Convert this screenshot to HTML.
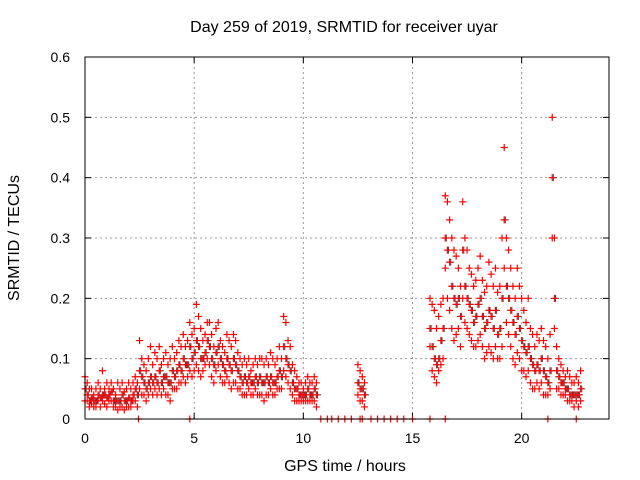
<!DOCTYPE html>
<html><head><meta charset="utf-8">
<style>
body{margin:0;background:#fff;}
svg{display:block;font-family:"Liberation Sans",sans-serif;}
</style></head>
<body>
<svg id="chart" width="640" height="480" viewBox="0 0 640 480">
<rect width="640" height="480" fill="#fff"/>
<text x="344" y="32" font-size="16" text-anchor="middle">Day 259 of 2019, SRMTID for receiver uyar</text>
<g id="grid"></g>
<g id="ticks"></g>
<g id="marks"></g>
<rect x="85" y="57" width="524" height="362" fill="none" stroke="#000" stroke-width="1"/>
<text x="345" y="471" font-size="16" text-anchor="middle">GPS time / hours</text>
<text x="0" y="0" font-size="16" text-anchor="middle" transform="translate(19,238) rotate(-90)">SRMTID / TECUs</text>
</svg>
<script>
const xTicks=[0,5,10,15,20];
const yTicks=[0,0.1,0.2,0.3,0.4,0.5,0.6];
const yTickLabels=["0","0.1","0.2","0.3","0.4","0.5","0.6"];
const segStarts=[0,2.5,4.8,7.1,9.1,12.5,15.8,16.5,19.0,21.1,21.6];
const seg0=[[0.07,0.05,0.03],[0.06,0.04,0.03],[0.05,0.03,0.02],[0.05,0.035,0.025],[0.04,0.03,0.02],[0.05,0.03,0.02],[0.06,0.04,0.03],[0.05,0.035,0.02],[0.08,0.04,0.03],[0.05,0.04,0.025],[0.06,0.035,0.02],[0.05,0.04,0.03],[0.06,0.045,0.03],[0.05,0.03,0.02],[0.04,0.03,0.02],[0.06,0.03,0.015],[0.05,0.03,0.02],[0.06,0.04,0.02],[0.045,0.03,0.015],[0.05,0.03,0.02],[0.06,0.035,0.02],[0.05,0.03,0.02],[0.06,0.04,0.03],[0.07,0.05,0.03],[0.06,0.04,0.02]];
const seg1=[[0.13,0.08,0.05],[0.1,0.07,0.04],[0.09,0.06,0.04],[0.08,0.05,0.03],[0.1,0.06,0.04],[0.12,0.07,0.05],[0.09,0.06,0.04],[0.11,0.07,0.05],[0.1,0.06,0.04],[0.12,0.08,0.05],[0.09,0.06,0.04],[0.1,0.07,0.05],[0.11,0.07,0.04],[0.09,0.06,0.04],[0.1,0.06,0.03],[0.12,0.08,0.05],[0.1,0.07,0.05],[0.11,0.08,0.05],[0.13,0.09,0.06],[0.12,0.08,0.06],[0.14,0.1,0.07],[0.12,0.09,0.06],[0.13,0.09,0.07]];
const seg2=[[0.16,0.12,0.08],[0.14,0.1,0.07],[0.15,0.11,0.08],[0.19,0.13,0.09],[0.17,0.12,0.08],[0.15,0.1,0.07],[0.13,0.1,0.08],[0.14,0.11,0.09],[0.16,0.13,0.1],[0.16,0.12,0.09],[0.14,0.1,0.07],[0.12,0.09,0.06],[0.15,0.11,0.08],[0.16,0.12,0.09],[0.13,0.1,0.07],[0.12,0.09,0.06],[0.11,0.08,0.06],[0.14,0.1,0.07],[0.13,0.09,0.06],[0.12,0.08,0.05],[0.14,0.1,0.06],[0.13,0.09,0.06],[0.11,0.08,0.05]];
const seg3=[[0.1,0.07,0.05],[0.09,0.06,0.04],[0.1,0.07,0.04],[0.09,0.06,0.04],[0.1,0.07,0.05],[0.08,0.06,0.04],[0.09,0.06,0.04],[0.1,0.07,0.05],[0.09,0.06,0.04],[0.1,0.07,0.04],[0.1,0.06,0.04],[0.09,0.06,0.03],[0.1,0.07,0.04],[0.09,0.06,0.04],[0.11,0.07,0.05],[0.1,0.06,0.04],[0.09,0.06,0.04],[0.1,0.07,0.05],[0.12,0.08,0.05],[0.1,0.07,0.05]];
const seg4=[[0.17,0.12,0.08],[0.16,0.1,0.07],[0.13,0.09,0.06],[0.12,0.08,0.05],[0.09,0.06,0.04],[0.08,0.05,0.03],[0.07,0.05,0.03],[0.06,0.04,0.03],[0.06,0.04,0.03],[0.05,0.04,0.03],[0.06,0.04,0.03],[0.07,0.05,0.03],[0.06,0.04,0.03],[0.06,0.04,0.03],[0.07,0.05,0.03],[0.06,0.04,0.02]];
const seg5=[[0.09,0.06,0.04],[0.08,0.05,0.03],[0.07,0.05,0.03],[0.06,0.04,0.02]];
const seg6=[[0.2,0.15,0.12],[0.19,0.12,0.08],[0.18,0.1,0.07],[0.15,0.09,0.06],[0.17,0.1,0.08],[0.19,0.13,0.09],[0.2,0.15,0.1]];
const seg7=[[0.37,0.3,0.25],[0.36,0.28,0.2],[0.33,0.26,0.18],[0.3,0.22,0.15],[0.28,0.2,0.13],[0.27,0.19,0.14],[0.25,0.2,0.15],[0.22,0.17,0.12],[0.36,0.28,0.2],[0.3,0.22,0.16],[0.28,0.2,0.15],[0.25,0.19,0.14],[0.24,0.18,0.13],[0.22,0.16,0.12],[0.23,0.17,0.12],[0.25,0.19,0.13],[0.27,0.2,0.14],[0.23,0.17,0.12],[0.21,0.15,0.1],[0.22,0.16,0.11],[0.26,0.18,0.12],[0.24,0.17,0.11],[0.22,0.15,0.1],[0.25,0.18,0.12],[0.21,0.14,0.1]];
const seg8=[[0.22,0.15,0.1],[0.3,0.2,0.12],[0.45,0.33,0.25],[0.3,0.22,0.16],[0.28,0.2,0.14],[0.25,0.18,0.12],[0.22,0.16,0.1],[0.2,0.14,0.09],[0.25,0.17,0.11],[0.22,0.15,0.1],[0.2,0.13,0.08],[0.18,0.12,0.08],[0.16,0.11,0.07],[0.2,0.12,0.08],[0.15,0.1,0.06],[0.14,0.09,0.05],[0.12,0.08,0.05],[0.14,0.09,0.06],[0.13,0.08,0.05],[0.15,0.1,0.06],[0.13,0.08,0.04]];
const seg9=[[0.12,0.07,0.04],[0.1,0.06,0.04],[0.14,0.08,0.05],[0.5,0.4,0.3],[0.3,0.2,0.15]];
const seg10=[[0.12,0.08,0.05],[0.1,0.07,0.05],[0.09,0.06,0.04],[0.08,0.06,0.04],[0.07,0.05,0.04],[0.08,0.05,0.03],[0.07,0.04,0.03],[0.06,0.04,0.03],[0.06,0.04,0.02],[0.07,0.04,0.03],[0.06,0.04,0.02],[0.08,0.05,0.03]];
const zeroTimes=[2.45,4.8,10.8,11.1,11.3,11.6,11.9,12.2,12.6,12.7,13.1,13.4,13.7,14.0,14.3,14.6,15.0,15.8,16.5,21.2,22.5];
const segments=[seg0,seg1,seg2,seg3,seg4,seg5,seg6,seg7,seg8,seg9,seg10];

const NS="http://www.w3.org/2000/svg";
const X0=85,X1=609,Y0=419,Y1=57,XMAX=24,YMAX=0.6;
function xs(t){return X0+(X1-X0)*t/XMAX;}
function ys(v){return Y0-(Y0-Y1)*v/YMAX;}
function mk(tag,attrs,parent){const e=document.createElementNS(NS,tag);for(const k in attrs)e.setAttribute(k,attrs[k]);parent.appendChild(e);return e;}

const grid=document.getElementById('grid'),ticks=document.getElementById('ticks'),marks=document.getElementById('marks');
xTicks.forEach((t,i)=>{
  const x=xs(t);
  if(t>0){const g=mk('line',{x1:x,x2:x,y1:Y0,y2:Y1,stroke:'#999','stroke-dasharray':'2,3'},grid);
  
  }
  mk('line',{x1:x,x2:x,y1:Y0,y2:Y0-6,stroke:'#000'},ticks);
  mk('line',{x1:x,x2:x,y1:Y1,y2:Y1+6,stroke:'#000'},ticks);
  const l=mk('text',{x:x,y:Y0+24,'font-size':14,'text-anchor':'middle'},ticks);
  l.textContent=String(t);
  
  
});
yTicks.forEach((v,i)=>{
  const y=ys(v);
  if(v>0&&v<YMAX){const g=mk('line',{x1:X0,x2:X1,y1:y,y2:y,stroke:'#999','stroke-dasharray':'2,3'},grid);
  
  }
  mk('line',{x1:X0,x2:X0+6,y1:y,y2:y,stroke:'#000'},ticks);
  mk('line',{x1:X1,x2:X1-6,y1:y,y2:y,stroke:'#000'},ticks);
  const l=mk('text',{x:X0-15,y:y+5,'font-size':14,'text-anchor':'end'},ticks);
  l.textContent=yTickLabels[i];
  
  
});
let redD='',grayD='';
function plus(t,v){const x=xs(t),y=ys(v);return 'M'+(x-3.5)+' '+y+'h7M'+x+' '+(y-3.5)+'v7';}
segments.forEach((seg,si)=>{
  seg.forEach((vals,j)=>{
    const t=segStarts[si]+j*0.1;
    grayD+=plus(t+0.05,vals[1]);
    vals.forEach(v=>{redD+=plus(t,v);});
  });
});
zeroTimes.forEach(t=>{redD+=plus(t,0);});
const gp=mk('path',{d:grayD,stroke:'#444','stroke-width':1,fill:'none'},marks);


const rp=mk('path',{d:redD,stroke:'#ff0000','stroke-width':1.2,fill:'none'},marks);


</script>
</body></html>
